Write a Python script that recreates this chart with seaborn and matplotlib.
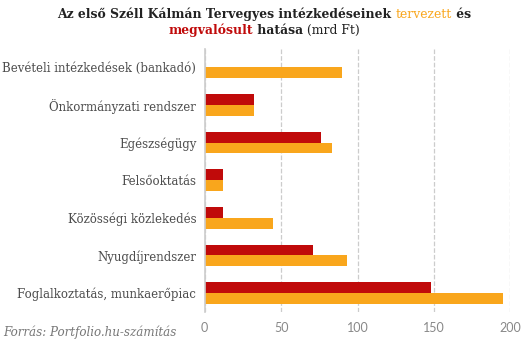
import matplotlib
matplotlib.use("Agg")
import matplotlib.pyplot as plt
import seaborn as sns
import pandas as pd
import numpy as np

categories = ["Bevételi intézkedések (bankadó)", "Önkormányzati rendszer", "Egészségügy",
              "Felsőoktatás", "Közösségi közlekedés", "Nyugdíjrendszer",
              "Foglalkoztatás, munkaerőpiac"]
megvalosult = [np.nan, 32, 76, 12, 12, 71, 148]
tervezett = [90, 32, 83, 12, 45, 93, 195]
series_names = ["megvalósult", "tervezett"]
xticks = [0, 50, 100, 150, 200]

RED = "#C00A0A"
ORANGE = "#F9A61C"

df = pd.DataFrame({
    "kategoria": categories * 2,
    "ertek": megvalosult + tervezett,
    "tipus": [series_names[0]] * len(categories) + [series_names[1]] * len(categories),
})

sns.set_theme(style="white")
fig = plt.figure(figsize=(5.26, 3.46), dpi=100)
ax = fig.add_axes([204.7 / 526, 1 - 311.8 / 346, (510.3 - 204.7) / 526, (311.8 - 48.6) / 346])

sns.barplot(data=df, y="kategoria", x="ertek", hue="tipus", order=categories,
            hue_order=series_names, palette={series_names[0]: RED, series_names[1]: ORANGE},
            orient="h", width=0.57, dodge=True, saturation=1, ax=ax, legend=False,
            linewidth=0, edgecolor="none")

ax.set_xlim(0, 200)
ax.set_xticks(xticks)
ax.set_xticklabels([str(t) for t in xticks], family="Lato", fontsize=9, color="#888888")
ax.set_yticks(range(len(categories)))
ax.set_yticklabels(categories, family="DejaVu Serif", fontsize=8.5, color="#4d4d4d")
ax.tick_params(axis="y", length=0, pad=6)
ax.tick_params(axis="x", length=0, pad=7)
ax.set_xlabel("")
ax.set_ylabel("")
ax.grid(axis="x", linestyle="--", color="#cccccc", linewidth=0.9)
ax.set_axisbelow(True)
for s in ["top", "right", "bottom"]:
    ax.spines[s].set_visible(False)
ax.spines["left"].set_color("#cccccc")
ax.spines["left"].set_linewidth(1.2)

# Title with coloured words
fig.canvas.draw()
renderer = fig.canvas.get_renderer()
TFS = 8.9
line1 = [("Az első Széll Kálmán Tervegyes intézkedéseinek ", "#222222", "bold"),
         ("tervezett", ORANGE, "normal"), (" és", "#222222", "bold")]
line2 = [("megvalósult", RED, "bold"), (" hatása", "#222222", "bold"),
         (" (mrd Ft)", "#222222", "normal")]

def place_line(parts, y):
    texts = []
    widths = []
    for s, c, w in parts:
        t = fig.text(0, y, s, color=c, fontweight=w, family="DejaVu Serif",
                     fontsize=TFS, va="center", ha="left")
        bb = t.get_window_extent(renderer)
        texts.append(t)
        widths.append(bb.width)
    total = sum(widths)
    x0 = (264 - total / 2)
    for t, w in zip(texts, widths):
        t.set_x(x0 / 526)
        x0 += w

place_line(line1, 1 - 14 / 346)
place_line(line2, 1 - 30 / 346)

fig.text(3 / 526, 1 - 332 / 346, "Forrás: Portfolio.hu-számítás", family="DejaVu Serif",
         style="italic", fontsize=8.6, color="#777777", va="center", ha="left")

fig.savefig("out.png", dpi=100)
